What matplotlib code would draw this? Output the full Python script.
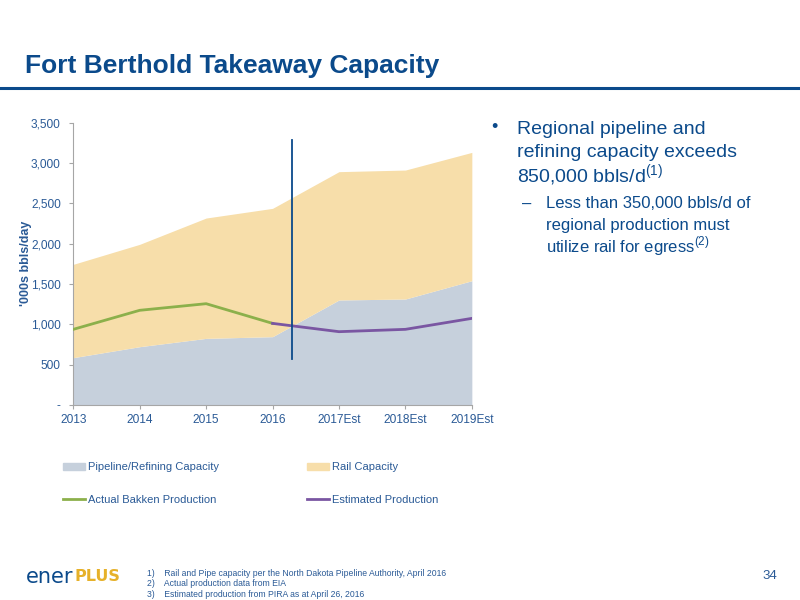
import matplotlib.pyplot as plt
from matplotlib.lines import Line2D
from matplotlib.patches import Patch

plt.rcParams["font.family"] = ["Liberation Sans", "DejaVu Sans"]
plt.rcParams["mathtext.fontset"] = "custom"
plt.rcParams["mathtext.rm"] = "Liberation Sans"

# data (thousand bbl/d)
years = ["2013", "2014", "2015", "2016", "2017Est", "2018Est", "2019Est"]
pipeline = [587, 723, 826, 847, 1302, 1314, 1541]
rail = [1157, 1269, 1492, 1591, 1591, 1599, 1591]
actual = [938, 1174, 1256, 1012]
estimated = [1012, 909, 938, 1074]

BLUE = "#0B4A8B"
TEXT = "#2A5A96"
PIPE = "#C6D0DC"
RAIL = "#F7DEAA"
GREEN = "#8CB04B"
PURPLE = "#7A56A2"

fig = plt.figure(figsize=(8, 6), dpi=100)
fig.patch.set_facecolor("white")

# slide header
fig.text(0.031, 0.89, "Fort Berthold Takeaway Capacity", fontsize=19,
         fontweight="bold", color=BLUE, ha="left", va="center")
fig.add_artist(Line2D([0, 1], [0.854, 0.854], color=BLUE, lw=2.2))

ax = fig.add_axes([0.0916, 0.325, 0.4982, 0.4705])
x = list(range(len(years)))
top = [p + r for p, r in zip(pipeline, rail)]
ax.fill_between(x, 0, pipeline, color=PIPE, lw=0, zorder=1)
ax.fill_between(x, pipeline, top, color=RAIL, lw=0, zorder=1)
ax.plot(x[:4], actual, color=GREEN, lw=2, zorder=3)
ax.plot(x[3:], estimated, color=PURPLE, lw=2, zorder=3)
ax.plot([3.3, 3.3], [565, 3280], color=BLUE, lw=1.3, zorder=4)

ax.set_xlim(0, 6)
ax.set_ylim(0, 3500)
ax.set_yticks(range(0, 3501, 500))
ax.set_yticklabels(["-"] + ["{:,}".format(v) for v in range(500, 3501, 500)])
ax.set_xticks(x)
ax.set_xticklabels(years)
for s in ["top", "right"]:
    ax.spines[s].set_visible(False)
for s in ["left", "bottom"]:
    ax.spines[s].set_color("#A6A6A6")
    ax.spines[s].set_linewidth(0.8)
ax.tick_params(colors="#A6A6A6", labelcolor=TEXT, labelsize=8.6, length=3)
ax.tick_params(axis="y", pad=6)
ax.set_ylabel("'000s bbls/day", color=TEXT, fontsize=9, fontweight="bold")
ax.yaxis.set_label_coords(-0.104, 0.503)

handles = [
    Patch(color=PIPE, label="Pipeline/Refining Capacity"),
    Patch(color=RAIL, label="Rail Capacity"),
    Line2D([0], [0], color=GREEN, lw=2, label="Actual Bakken Production"),
    Line2D([0], [0], color=PURPLE, lw=2, label="Estimated Production"),
]
leg = fig.legend(handles=[handles[0], handles[2], handles[1], handles[3]],
                 ncol=2, loc="upper left", bbox_to_anchor=(0.066, 0.246),
                 frameon=False, fontsize=8, handlelength=2.0, handleheight=0.6,
                 handletextpad=0.25, columnspacing=7.9, labelspacing=2.0)
for t in leg.get_texts():
    t.set_color(TEXT)

# bullet text, one line at a time
main_lines = ["Regional pipeline and", "refining capacity exceeds",
              "850,000 bbls/d$^{(1)}$"]
sub_lines = ["Less than 350,000 bbls/d of", "regional production must",
             "utilize rail for egress$^{(2)}$"]
fig.text(0.614, 0.787, "\u2022", fontsize=13, color=BLUE, va="center")
for i, line in enumerate(main_lines):
    fig.text(0.646, 0.785 - i * 0.039, line, fontsize=14, color=BLUE,
             va="center", ha="left")
fig.text(0.652, 0.660, "\u2013", fontsize=12, color=BLUE, va="center")
for i, line in enumerate(sub_lines):
    fig.text(0.683, 0.660 - i * 0.0355, line, fontsize=12, color=BLUE,
             va="center", ha="left")

# footer
fig.text(0.032, 0.039, "ener", fontsize=15, color=BLUE, va="center", ha="left",
         family="DejaVu Sans")
fig.text(0.0925, 0.039, "PLUS", fontsize=11.5, color="#E6B12A",
         fontweight="bold", va="center", ha="left", family="DejaVu Sans")
notes = ["1)    Rail and Pipe capacity per the North Dakota Pipeline Authority, April 2016",
         "2)    Actual production data from EIA",
         "3)    Estimated production from PIRA as at April 26, 2016"]
for i, n in enumerate(notes):
    fig.text(0.184, 0.0445 - i * 0.0175, n, fontsize=6.2, color=TEXT,
             va="center")
fig.text(0.972, 0.040, "34", fontsize=9.5, color=TEXT, va="center", ha="right")

fig.savefig("out.png", dpi=100, facecolor="white")
